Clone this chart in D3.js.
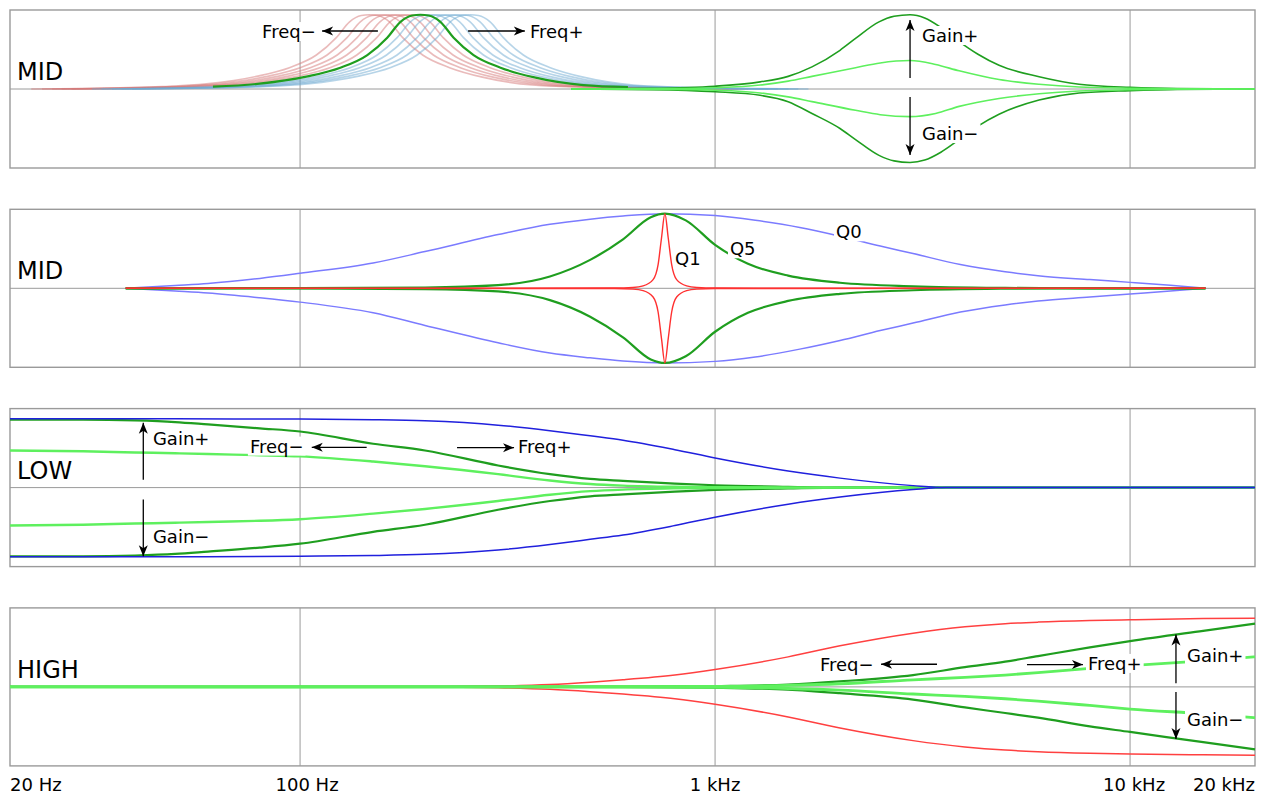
<!DOCTYPE html>
<html>
<head>
<meta charset="utf-8">
<script src="https://cdn.jsdelivr.net/npm/d3@7"></script>
<style>
  html, body { margin: 0; padding: 0; background: #fff; }
  svg { display: block; font-family: "DejaVu Sans", sans-serif; }
</style>
</head>
<body>
<svg id="chart" width="1265" height="796"></svg>
<script>
// ---------------- DATA (frequency in Hz, gain as fraction of panel half-height) ----------------
const panelNames = ["MID", "MID", "LOW", "HIGH"];
const gridFreqs = [100, 1000, 10000];
const tickFreqs = [20, 100, 1000, 10000, 20000];
const tickLabels = ["20 Hz", "100 Hz", "1 kHz", "10 kHz", "20 kHz"];

// Panel 1 — frequency sweep: one bell profile (offset in decades, gain) shifted to several centres
const sweepProfile = [[-0.815,0],[-0.6,0.015],[-0.5,0.03],[-0.393,0.065],[-0.272,0.16],[-0.193,0.27],[-0.128,0.43],[-0.08,0.65],[-0.048,0.85],[-0.02,0.93],[0,0.94],[0.02,0.93],[0.048,0.85],[0.08,0.65],[0.128,0.43],[0.193,0.27],[0.272,0.15],[0.393,0.05],[0.5,0.025],[0.6,0.012],[0.815,0]];
const sweepCentersDown = [147, 156, 165, 174, 184];
const sweepCenterMain = 195;
const sweepCentersUp = [206, 217, 230, 243, 257];

// Panel 1 — gain bells around 3 kHz
const bellDarkUp = [[450,0],[700,0.008],[1000,0.035],[1284,0.09],[1500,0.16],[1712,0.28],[2000,0.49],[2180,0.64],[2483,0.85],[2700,0.92],[2950,0.94],[3200,0.9],[3500,0.78],[3874,0.6],[4300,0.44],[4833,0.3],[6036,0.155],[7536,0.06],[10000,0.02],[13000,0.005],[20000,0]];
const bellDarkDown = [[450,0],[700,-0.008],[1000,-0.035],[1284,-0.08],[1500,-0.16],[1712,-0.31],[2000,-0.5],[2180,-0.64],[2483,-0.84],[2700,-0.91],[2950,-0.93],[3200,-0.9],[3500,-0.8],[3874,-0.64],[4300,-0.47],[4833,-0.32],[6036,-0.14],[7536,-0.05],[10000,-0.02],[13000,-0.005],[20000,0]];
const bellLightUp = [[450,0],[800,0.005],[1000,0.015],[1284,0.05],[1500,0.1],[1712,0.16],[2180,0.27],[2500,0.33],[2950,0.36],[3400,0.31],[3874,0.23],[4833,0.12],[6036,0.06],[7536,0.025],[10000,0.01],[13000,0.003],[20000,0]];
const bellLightDown = [[450,0],[800,-0.005],[1000,-0.015],[1284,-0.05],[1500,-0.1],[1712,-0.16],[2180,-0.27],[2500,-0.325],[2950,-0.35],[3400,-0.31],[3874,-0.22],[4833,-0.12],[6036,-0.06],[7536,-0.025],[10000,-0.01],[13000,-0.003],[20000,0]];

// Panel 2 — Q variations at 757 Hz
const q0Up = [[38,0],[50,0.035],[60,0.06],[80,0.125],[100,0.19],[150,0.32],[200,0.465],[300,0.68],[400,0.81],[500,0.875],[600,0.915],[757,0.945],[1000,0.92],[1250,0.86],[1600,0.77],[2000,0.66],[2500,0.535],[3000,0.44],[3900,0.3],[5000,0.21],[6000,0.16],[8000,0.11],[10000,0.075],[12500,0.038],[15200,0]];
const q0Down = [[38,0],[50,-0.035],[60,-0.06],[80,-0.12],[100,-0.175],[150,-0.31],[200,-0.47],[300,-0.69],[400,-0.82],[500,-0.88],[600,-0.92],[757,-0.945],[1000,-0.925],[1250,-0.87],[1600,-0.77],[2000,-0.66],[2500,-0.535],[3000,-0.44],[3900,-0.3],[5000,-0.21],[6000,-0.16],[8000,-0.11],[10000,-0.072],[12500,-0.035],[15200,0]];
const q5Up = [[38,0],[100,0.002],[200,0.01],[300,0.04],[400,0.15],[500,0.36],[600,0.62],[700,0.9],[757,0.945],[850,0.86],[1000,0.55],[1200,0.31],[1500,0.16],[2000,0.07],[3000,0.025],[5000,0.005],[8000,0],[15200,0]];
const q5Down = [[38,0],[100,-0.002],[200,-0.01],[300,-0.04],[400,-0.15],[500,-0.36],[600,-0.62],[700,-0.9],[757,-0.945],[850,-0.86],[1000,-0.55],[1200,-0.31],[1500,-0.16],[2000,-0.07],[3000,-0.025],[5000,-0.005],[8000,0],[15200,0]];
const q1Up = [[38,0],[573,0.003],[634,0.01],[671,0.03],[709,0.11],[729,0.3],[743,0.64],[757,0.945],[771,0.64],[786,0.3],[808,0.11],[854,0.03],[904,0.01],[1000,0.003],[15200,0]];
const q1Down = [[38,0],[573,-0.003],[634,-0.01],[671,-0.03],[709,-0.11],[729,-0.3],[743,-0.64],[757,-0.945],[771,-0.64],[786,-0.3],[808,-0.11],[854,-0.03],[904,-0.01],[1000,-0.003],[15200,0]];

// Panel 3 — low shelf
const lowBlueUp = [[20,0.87],[50,0.87],[100,0.868],[150,0.86],[200,0.845],[300,0.79],[400,0.72],[500,0.655],[600,0.6],[800,0.48],[1000,0.375],[1500,0.21],[2000,0.12],[3000,0.025],[3600,0],[20000,0]];
const lowBlueDown = [[20,-0.875],[50,-0.875],[100,-0.868],[150,-0.86],[200,-0.845],[300,-0.79],[400,-0.72],[500,-0.655],[600,-0.6],[800,-0.48],[1000,-0.375],[1500,-0.21],[2000,-0.12],[3000,-0.025],[3600,0],[20000,0]];
const lowDarkUp = [[20,0.86],[30,0.86],[40,0.85],[50,0.83],[60,0.8],[80,0.75],[100,0.71],[150,0.555],[200,0.47],[300,0.28],[400,0.17],[500,0.11],[600,0.085],[800,0.05],[1000,0.03],[1500,0.01],[2000,0],[20000,0]];
const lowDarkDown = [[20,-0.87],[30,-0.87],[40,-0.86],[50,-0.84],[60,-0.81],[80,-0.76],[100,-0.71],[150,-0.56],[200,-0.47],[300,-0.28],[400,-0.17],[500,-0.11],[600,-0.085],[800,-0.05],[1000,-0.03],[1500,-0.01],[2000,0],[20000,0]];
const lowLightUp = [[20,0.47],[30,0.46],[40,0.445],[50,0.435],[60,0.425],[80,0.41],[100,0.395],[150,0.33],[200,0.27],[300,0.17],[400,0.09],[500,0.045],[600,0.025],[800,0.01],[1000,0.005],[1500,0],[20000,0]];
const lowLightDown = [[20,-0.48],[30,-0.47],[40,-0.455],[50,-0.445],[60,-0.435],[80,-0.42],[100,-0.4],[150,-0.33],[200,-0.27],[300,-0.17],[400,-0.09],[500,-0.045],[600,-0.025],[800,-0.01],[1000,-0.005],[1500,0],[20000,0]];

// Panel 4 — high shelf
const highRedUp = [[20,0],[200,0],[300,0.01],[400,0.03],[500,0.06],[600,0.09],[800,0.15],[1000,0.22],[1500,0.38],[2000,0.52],[3000,0.68],[4000,0.76],[5000,0.8],[6000,0.82],[8000,0.84],[10000,0.85],[15000,0.865],[20000,0.87]];
const highRedDown = [[20,0],[200,0],[300,-0.01],[400,-0.03],[500,-0.06],[600,-0.09],[800,-0.15],[1000,-0.22],[1500,-0.38],[2000,-0.52],[3000,-0.68],[4000,-0.76],[5000,-0.8],[6000,-0.82],[8000,-0.84],[10000,-0.85],[15000,-0.86],[20000,-0.865]];
const highDarkUp = [[20,0],[600,0],[1000,0.01],[1500,0.03],[2000,0.07],[3000,0.15],[4000,0.25],[5000,0.32],[6000,0.39],[8000,0.5],[10000,0.58],[15000,0.71],[20000,0.8]];
const highDarkDown = [[20,0],[600,0],[1000,-0.01],[1500,-0.035],[2000,-0.08],[3000,-0.16],[4000,-0.26],[5000,-0.33],[6000,-0.39],[8000,-0.5],[10000,-0.57],[15000,-0.7],[20000,-0.79]];
const highLightUp = [[20,0],[1000,0.005],[1500,0.02],[2000,0.04],[3000,0.09],[4000,0.12],[5000,0.15],[6000,0.18],[8000,0.235],[10000,0.27],[15000,0.33],[20000,0.38]];
const highLightDown = [[20,0],[1000,-0.005],[1500,-0.02],[2000,-0.04],[3000,-0.09],[4000,-0.12],[5000,-0.15],[6000,-0.18],[8000,-0.235],[10000,-0.28],[15000,-0.34],[20000,-0.39]];

// Annotations: [panel, text, freq, gain]  and arrows: [panel, f1, g1, f2, g2]
const annoTexts = [
  [0, "Freq\u2212", 81, 0.645], [0, "Freq+", 358, 0.645], [0, "Gain+", 3152, 0.595], [0, "Gain\u2212", 3152, -0.646],
  [1, "Q1", 801, 0.29], [1, "Q5", 1086, 0.418], [1, "Q0", 1956, 0.633],
  [2, "Gain+", 44.2, 0.544], [2, "Gain\u2212", 44.2, -0.696], [2, "Freq\u2212", 75.7, 0.443], [2, "Freq+", 335, 0.443],
  [3, "Freq\u2212", 1790, 0.2], [3, "Freq+", 7918, 0.215], [3, "Gain+", 13714, 0.316], [3, "Gain\u2212", 13714, -0.494]
];
const annoArrows = [
  [0, 154, 0.734, 113, 0.734], [0, 254, 0.734, 348, 0.734], [0, 2950, 0.14, 2950, 0.873], [0, 2950, -0.1, 2950, -0.835],
  [2, 41.9, 0.1, 41.9, 0.82], [2, 41.9, -0.152, 41.9, -0.87], [2, 144.7, 0.51, 106.7, 0.51], [2, 238.9, 0.506, 327.8, 0.506],
  [3, 3426, 0.287, 2512, 0.287], [3, 5644, 0.282, 7700, 0.282], [3, 12900, 0.047, 12900, 0.662], [3, 12900, -0.063, 12900, -0.658]
];

// ---------------- COLOURS ----------------
const C = {
  grid: "#9a9a9a", darkGreen: "#1f9e1f", lightGreen: "#5ef05e",
  fadedRed: "rgba(214,120,120,0.5)", fadedBlue: "rgba(110,170,210,0.5)",
  qBlue: "#7b7bff", qRed: "#ff3030", lowBlue: "#2020dd", highRed: "#ff4040"
};

// ---------------- CHART ----------------
const svg = d3.select("#chart");
const x = d3.scaleLog().domain([20, 20000]).range([10, 1255]);
const panelTop = 10, panelStep = 199.3, panelH = 158;

const defs = svg.append("defs");
defs.append("marker").attr("id", "ah").attr("viewBox", "-12 -6 14 12")
  .attr("refX", 0).attr("refY", 0).attr("markerWidth", 14).attr("markerHeight", 12)
  .attr("markerUnits", "userSpaceOnUse").attr("orient", "auto")
  .append("path").attr("d", "M0,0 L-11,-4.5 L-8,0 L-11,4.5 Z").attr("fill", "#000");

const panels = panelNames.map((name, i) => {
  const top = panelTop + i * panelStep;
  const y = d3.scaleLinear().domain([-1, 1]).range([top + panelH, top]);
  const g = svg.append("g");
  g.selectAll("line.grid").data(gridFreqs).join("line")
    .attr("x1", d => x(d)).attr("x2", d => x(d)).attr("y1", top).attr("y2", top + panelH)
    .attr("stroke", C.grid).attr("stroke-width", 1);
  g.append("line").attr("x1", x(20)).attr("x2", x(20000)).attr("y1", y(0)).attr("y2", y(0))
    .attr("stroke", C.grid).attr("stroke-width", 1);
  g.append("rect").attr("x", x(20)).attr("y", top).attr("width", x(20000) - x(20)).attr("height", panelH)
    .attr("fill", "none").attr("stroke", C.grid).attr("stroke-width", 1.4);
  g.append("text").attr("x", 17).attr("y", top + 70).attr("font-size", 24).attr("fill", "#000").text(name);
  return { g, y };
});

function curve(p, data, color, width) {
  const line = d3.line().x(d => x(d[0])).y(d => panels[p].y(d[1])).curve(d3.curveMonotoneX);
  panels[p].g.append("path").attr("d", line(data)).attr("fill", "none")
    .attr("stroke", color).attr("stroke-width", width).attr("stroke-linejoin", "round");
}
const shifted = (c, prof) => prof.map(d => [c * Math.pow(10, d[0]), d[1]]);

// Panel 1
sweepCentersDown.forEach(c => curve(0, shifted(c, sweepProfile), C.fadedRed, 1.6));
sweepCentersUp.forEach(c => curve(0, shifted(c, sweepProfile), C.fadedBlue, 1.6));
curve(0, shifted(sweepCenterMain, sweepProfile.slice(2, -2)), C.darkGreen, 2.2);
curve(0, bellDarkUp, C.darkGreen, 1.6);
curve(0, bellDarkDown, C.darkGreen, 1.6);
curve(0, bellLightUp, C.lightGreen, 1.6);
curve(0, bellLightDown, C.lightGreen, 1.6);

// Panel 2
curve(1, q0Up, C.qBlue, 1.5);
curve(1, q0Down, C.qBlue, 1.5);
curve(1, q5Up, C.darkGreen, 2.2);
curve(1, q5Down, C.darkGreen, 2.2);
curve(1, q1Up, C.qRed, 1.4);
curve(1, q1Down, C.qRed, 1.4);

// Panel 3
curve(2, lowDarkUp, C.darkGreen, 2.2);
curve(2, lowDarkDown, C.darkGreen, 2.2);
curve(2, lowLightUp, C.lightGreen, 2.4);
curve(2, lowLightDown, C.lightGreen, 2.4);
curve(2, lowBlueUp, C.lowBlue, 1.5);
curve(2, lowBlueDown, C.lowBlue, 1.5);

// Panel 4
curve(3, highRedUp, C.highRed, 1.5);
curve(3, highRedDown, C.highRed, 1.5);
curve(3, highDarkUp, C.darkGreen, 2.2);
curve(3, highDarkDown, C.darkGreen, 2.2);
curve(3, highLightUp, C.lightGreen, 2.8);
curve(3, highLightDown, C.lightGreen, 2.8);

// Annotation labels with white background
annoTexts.forEach(([p, t, f, gv]) => {
  const g = panels[p].g;
  const bg = g.append("rect").attr("fill", "#fff");
  const tx = g.append("text").attr("x", x(f)).attr("y", panels[p].y(gv))
    .attr("font-size", 18).attr("fill", "#000").text(t);
  const b = tx.node().getBBox();
  bg.attr("x", b.x - 2).attr("y", b.y + 1).attr("width", b.width + 4).attr("height", b.height - 2);
});

// Arrows
annoArrows.forEach(([p, f1, g1, f2, g2]) => {
  panels[p].g.append("line")
    .attr("x1", x(f1)).attr("y1", panels[p].y(g1)).attr("x2", x(f2)).attr("y2", panels[p].y(g2))
    .attr("stroke", "#000").attr("stroke-width", 1.3).attr("marker-end", "url(#ah)");
});

// Frequency axis labels
svg.append("g").selectAll("text").data(tickFreqs).join("text")
  .attr("x", (d, i) => x(d) + (i === 1 ? 7 : (i === 3 ? 4 : 0)))
  .attr("y", 791)
  .attr("font-size", 18).attr("fill", "#000")
  .attr("text-anchor", (d, i) => i === 0 ? "start" : (i === tickFreqs.length - 1 ? "end" : "middle"))
  .text((d, i) => tickLabels[i]);
</script>
</body>
</html>
